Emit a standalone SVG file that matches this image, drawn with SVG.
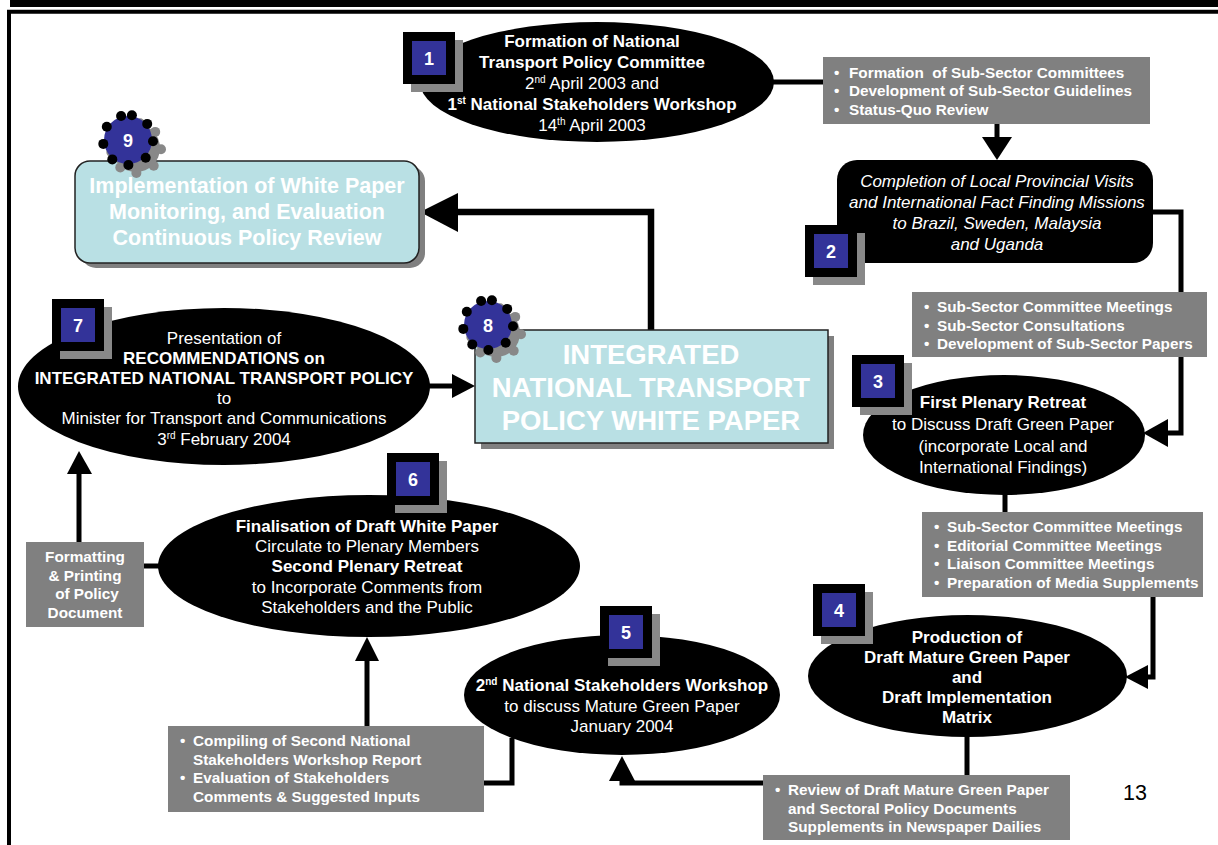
<svg xmlns="http://www.w3.org/2000/svg" xmlns:xlink="http://www.w3.org/1999/xlink" width="1218" height="845" viewBox="0 0 1218 845">
  <style>
    .t { font-family: "Liberation Sans", Arial, sans-serif; fill: #fff; text-anchor: middle; font-size: 17px; }
    .b { font-weight: bold; }
    .i { font-style: italic; }
    .gbox { fill: #808080; }
    .gt { font-family: "Liberation Sans", Arial, sans-serif; font-size: 15.3px; font-weight: bold; fill: #fff; }
    .ln { stroke: #000; stroke-width: 5; fill: none; }
    .ah { fill: #000; }
    .num { font-family: "Liberation Sans", Arial, sans-serif; font-size: 18px; font-weight: bold; fill: #fff; text-anchor: middle; }
    .cyan { fill: #B9E0E4; stroke: #222; stroke-width: 1.5; }
    .shadow { fill: #808080; }
    .big { font-family: "Liberation Sans", Arial, sans-serif; font-weight: bold; fill: #fff; text-anchor: middle; }
  </style>
  <defs>
    <!-- square step badge: shadow, black frame, blue face -->
    <g id="sq">
      <rect x="8" y="8" width="52" height="52" fill="#888"/>
      <rect x="0" y="0" width="52" height="52" fill="#000"/>
      <rect x="9" y="9" width="34" height="34" fill="#333399"/>
    </g>
    <!-- dotted round badge -->
    <g id="ring">
      <circle cx="-6.9" cy="-24" r="5"/>
      <circle cx="3.9" cy="-24.7" r="5"/>
      <circle cx="19.2" cy="-16.1" r="5"/>
      <circle cx="25" cy="1.3" r="5"/>
      <circle cx="17.7" cy="17.7" r="5"/>
      <circle cx="0.4" cy="25" r="5"/>
      <circle cx="-15.7" cy="19.4" r="5"/>
      <circle cx="-24.7" cy="3.9" r="5"/>
      <circle cx="-21.2" cy="-13.2" r="5"/>
    </g>
    <g id="gear">
      <g transform="translate(8,8)" fill="#888">
        <circle r="24"/>
        <use xlink:href="#ring"/>
      </g>
      <circle r="24" fill="#333399"/>
      <use xlink:href="#ring" fill="#000"/>
    </g>
  </defs>

  <rect width="1218" height="845" fill="#fff"/>

  <!-- page frame -->
  <rect x="10" y="0" width="1208" height="7" fill="#000"/>
  <path d="M9 847 V11.7 H1220" stroke="#000" stroke-width="4" fill="none"/>

  <!-- connectors -->
  <g id="connectors">
    <path class="ln" d="M770 82 H823"/>
    <path class="ln" d="M997 124 V139"/>
    <polygon class="ah" points="982,137 1012,137 997,160"/>
    <path class="ln" d="M1150 212 H1181 V433 H1166"/>
    <polygon class="ah" points="1168,419 1168,447 1143,433"/>
    <path class="ln" d="M1005 490 V512"/>
    <path class="ln" d="M1153 597 V677 H1146"/>
    <polygon class="ah" points="1148,665 1148,689 1125,677"/>
    <path class="ln" d="M967 733 V775"/>
    <path class="ln" d="M763 783 H622 V778"/>
    <polygon class="ah" points="609,781 635,781 622,756"/>
    <path class="ln" d="M512 738 V783 H484"/>
    <path class="ln" d="M367 726 V659"/>
    <polygon class="ah" points="355,661 379,661 367,637"/>
    <path class="ln" d="M144 566 H162"/>
    <path class="ln" d="M79 542 V472"/>
    <polygon class="ah" points="67,474 92,474 79,451"/>
    <path class="ln" d="M428 386 H454"/>
    <polygon class="ah" points="452,374 452,398 475,386"/>
    <path d="M651 330 V212 H456" stroke="#000" stroke-width="6.5" fill="none"/>
    <polygon class="ah" points="458,193 458,232 420,212"/>
  </g>

  <!-- step 1 -->
  <g id="node1">
    <ellipse cx="597" cy="82" rx="177" ry="60" fill="#000"/>
    <text class="t b" x="592" y="47">Formation of National</text>
    <text class="t b" x="592" y="68">Transport Policy Committee</text>
    <text class="t" x="592" y="89">2<tspan font-size="10" dy="-6">nd</tspan><tspan dy="6"> April 2003 and</tspan></text>
    <text class="t b" x="592" y="110">1<tspan font-size="10" dy="-6">st</tspan><tspan dy="6"> National Stakeholders Workshop</tspan></text>
    <text class="t" x="592" y="131">14<tspan font-size="10" dy="-6">th</tspan><tspan dy="6"> April 2003</tspan></text>
    <use xlink:href="#sq" x="403" y="32"/>
    <text class="num" x="429" y="65">1</text>
  </g>

  <g id="box1">
    <rect class="gbox" x="823" y="57" width="327" height="67"/>
    <text class="gt" y="77.5"><tspan x="834">•</tspan><tspan x="849">Formation&#160; of Sub-Sector Committees</tspan></text>
    <text class="gt" y="96"><tspan x="834">•</tspan><tspan x="849">Development of Sub-Sector Guidelines</tspan></text>
    <text class="gt" y="114.5"><tspan x="834">•</tspan><tspan x="849">Status-Quo Review</tspan></text>
  </g>

  <!-- step 2 -->
  <g id="node2">
    <rect x="837" y="160" width="316" height="103" rx="20" fill="#000"/>
    <text class="t i" x="997" y="187">Completion of Local Provincial Visits</text>
    <text class="t i" x="997" y="208">and International Fact Finding Missions</text>
    <text class="t i" x="997" y="229">to Brazil, Sweden, Malaysia</text>
    <text class="t i" x="997" y="250">and Uganda</text>
    <use xlink:href="#sq" x="805" y="225"/>
    <text class="num" x="831" y="258">2</text>
  </g>

  <g id="box2">
    <rect class="gbox" x="912" y="292" width="295" height="65"/>
    <text class="gt" y="312"><tspan x="924">•</tspan><tspan x="937">Sub-Sector Committee Meetings</tspan></text>
    <text class="gt" y="330.5"><tspan x="924">•</tspan><tspan x="937">Sub-Sector Consultations</tspan></text>
    <text class="gt" y="349"><tspan x="924">•</tspan><tspan x="937">Development of Sub-Sector Papers</tspan></text>
  </g>

  <!-- step 3 -->
  <g id="node3">
    <ellipse cx="1004" cy="435" rx="141" ry="60" fill="#000"/>
    <text class="t b" x="1003" y="408" font-size="18.5">First Plenary Retreat</text>
    <text class="t" x="1003" y="430" font-size="18.5">to Discuss Draft Green Paper</text>
    <text class="t" x="1003" y="452" font-size="18.5">(incorporate Local and</text>
    <text class="t" x="1003" y="473" font-size="18.5">International Findings)</text>
    <use xlink:href="#sq" x="852" y="355"/>
    <text class="num" x="878" y="388">3</text>
  </g>

  <g id="box3">
    <rect class="gbox" x="922" y="512" width="281" height="85"/>
    <text class="gt" y="532"><tspan x="934">•</tspan><tspan x="947">Sub-Sector Committee Meetings</tspan></text>
    <text class="gt" y="550.5"><tspan x="934">•</tspan><tspan x="947">Editorial Committee Meetings</tspan></text>
    <text class="gt" y="569"><tspan x="934">•</tspan><tspan x="947">Liaison Committee Meetings</tspan></text>
    <text class="gt" y="587.5"><tspan x="934">•</tspan><tspan x="947">Preparation of Media Supplements</tspan></text>
  </g>

  <!-- step 4 -->
  <g id="node4">
    <ellipse cx="967.5" cy="676" rx="159.5" ry="61" fill="#000"/>
    <text class="t b" x="967" y="643">Production of</text>
    <text class="t b" x="967" y="663">Draft Mature Green Paper</text>
    <text class="t b" x="967" y="683">and</text>
    <text class="t b" x="967" y="703">Draft Implementation</text>
    <text class="t b" x="967" y="723">Matrix</text>
    <use xlink:href="#sq" x="813" y="584"/>
    <text class="num" x="839" y="617">4</text>
  </g>

  <g id="box4">
    <rect class="gbox" x="763" y="775" width="307" height="65"/>
    <text class="gt" y="795"><tspan x="775">•</tspan><tspan x="788">Review of Draft Mature Green Paper</tspan></text>
    <text class="gt" x="788" y="813.5">and Sectoral Policy Documents</text>
    <text class="gt" x="788" y="832">Supplements in Newspaper Dailies</text>
  </g>

  <!-- step 5 -->
  <g id="node5">
    <ellipse cx="622" cy="695" rx="158" ry="60" fill="#000"/>
    <text class="t b" x="622" y="691">2<tspan font-size="10" dy="-6">nd</tspan><tspan dy="6"> National Stakeholders Workshop</tspan></text>
    <text class="t" x="622" y="712">to discuss Mature Green Paper</text>
    <text class="t" x="622" y="732">January 2004</text>
    <use xlink:href="#sq" x="600" y="606"/>
    <text class="num" x="626" y="639">5</text>
  </g>

  <g id="box5">
    <rect class="gbox" x="168" y="726" width="316" height="86"/>
    <text class="gt" y="746"><tspan x="180">•</tspan><tspan x="193">Compiling of Second National</tspan></text>
    <text class="gt" x="193" y="764.5">Stakeholders Workshop Report</text>
    <text class="gt" y="783"><tspan x="180">•</tspan><tspan x="193">Evaluation of Stakeholders</tspan></text>
    <text class="gt" x="193" y="801.5">Comments &amp; Suggested Inputs</text>
  </g>

  <!-- step 6 -->
  <g id="node6">
    <ellipse cx="369" cy="566" rx="211" ry="71" fill="#000"/>
    <text class="t b" x="367" y="532">Finalisation of Draft White Paper</text>
    <text class="t" x="367" y="552">Circulate to Plenary Members</text>
    <text class="t b" x="367" y="572">Second Plenary Retreat</text>
    <text class="t" x="367" y="593">to Incorporate Comments from</text>
    <text class="t" x="367" y="613">Stakeholders and the Public</text>
    <use xlink:href="#sq" x="387" y="453"/>
    <text class="num" x="413" y="486">6</text>
  </g>

  <g id="box6">
    <rect class="gbox" x="26" y="542" width="118" height="85"/>
    <text class="gt" x="85" y="562" text-anchor="middle">Formatting</text>
    <text class="gt" x="85" y="580.5" text-anchor="middle">&amp; Printing</text>
    <text class="gt" x="87" y="599" text-anchor="middle">of Policy</text>
    <text class="gt" x="85" y="617.5" text-anchor="middle">Document</text>
  </g>

  <!-- step 7 -->
  <g id="node7">
    <ellipse cx="224" cy="386.5" rx="206" ry="78.5" fill="#000"/>
    <text class="t" x="224" y="344">Presentation of</text>
    <text class="t b" x="224" y="364">RECOMMENDATIONS on</text>
    <text class="t b" x="224" y="384">INTEGRATED NATIONAL TRANSPORT POLICY</text>
    <text class="t" x="224" y="404">to</text>
    <text class="t" x="224" y="424">Minister for Transport and Communications</text>
    <text class="t" x="224" y="445">3<tspan font-size="10" dy="-6">rd</tspan><tspan dy="6"> February 2004</tspan></text>
    <use xlink:href="#sq" x="52" y="299"/>
    <text class="num" x="78" y="332">7</text>
  </g>

  <!-- step 8 -->
  <g id="node8">
    <rect class="shadow" x="481" y="336" width="353" height="113"/>
    <rect class="cyan" x="475" y="330" width="353" height="113"/>
    <text class="big" x="651" y="364" font-size="27.5">INTEGRATED</text>
    <text class="big" x="651" y="397" font-size="27.5">NATIONAL TRANSPORT</text>
    <text class="big" x="651" y="430" font-size="27.5">POLICY WHITE PAPER</text>
    <use xlink:href="#gear" x="488" y="325"/>
    <text class="num" x="488" y="332">8</text>
  </g>

  <!-- step 9 -->
  <g id="node9">
    <rect class="shadow" x="81" y="166" width="344" height="102" rx="15"/>
    <rect class="cyan" x="75" y="161" width="344" height="102" rx="15"/>
    <text class="big" x="247" y="193" font-size="21.5">Implementation of White Paper</text>
    <text class="big" x="247" y="219" font-size="21.5">Monitoring, and Evaluation</text>
    <text class="big" x="247" y="245" font-size="21.5">Continuous Policy Review</text>
    <use xlink:href="#gear" x="128" y="140"/>
    <text class="num" x="128" y="147">9</text>
  </g>

  <text x="1135" y="800" font-family="Liberation Sans, Arial, sans-serif" font-size="21.5" fill="#000" text-anchor="middle">13</text>
</svg>
